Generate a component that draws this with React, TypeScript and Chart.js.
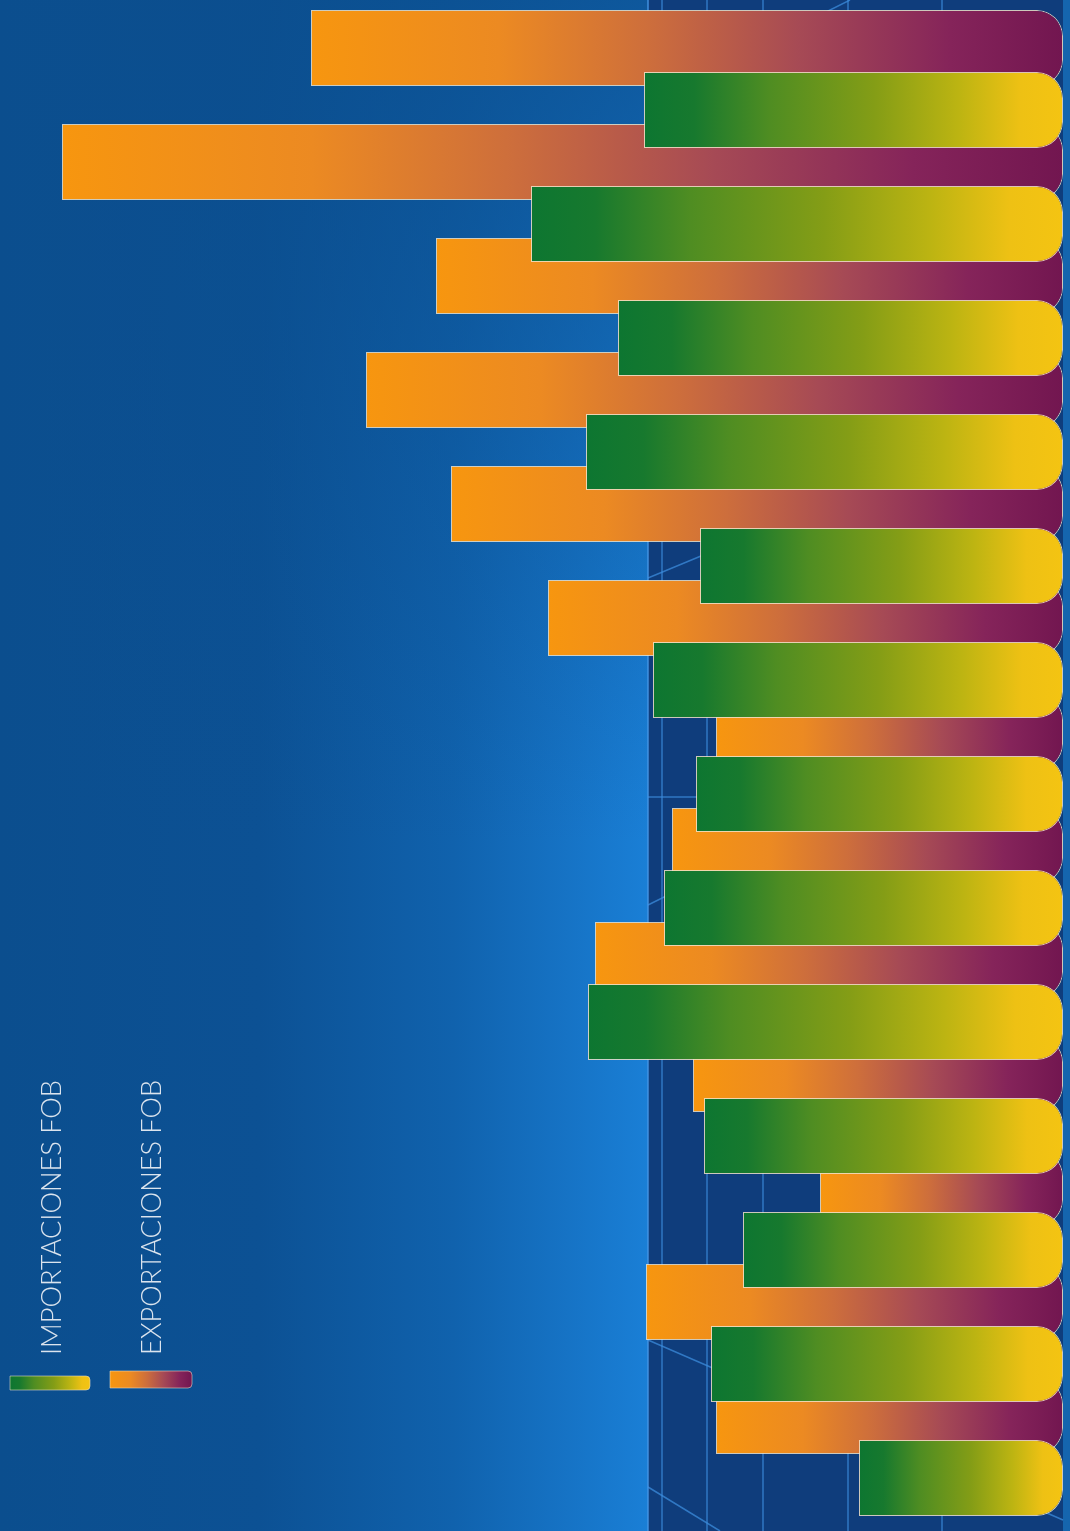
import React, { useEffect, useRef } from "react";
import { Chart, registerables } from "chart.js";

Chart.register(...registerables);

// ---- data (arbitrary units, 0 at the right-hand base) ----
const categories = ["1", "2", "3", "4", "5", "6", "7", "8", "9", "10", "11", "12", "13"];
const exportacionesFob = [752, 1001, 627, 697, 612, 515, 347, 391, 468, 370, 243, 417, 347];
const importacionesFob = [419, 532, 445, 477, 363, 410, 367, 399, 475, 359, 320, 352, 204];
const seriesLabels = ["EXPORTACIONES FOB", "IMPORTACIONES FOB"];
const axisMax = 1063;

// gradient stops (left end of a bar -> base on the right)
const exportStops: [number, string][] = [
  [0, "#f7960f"],
  [0.25, "#ec8a22"],
  [0.45, "#cd6e3c"],
  [0.65, "#a64a55"],
  [0.85, "#85245a"],
  [1, "#721650"],
];
const importStops: [number, string][] = [
  [0, "#0d7631"],
  [0.12, "#17792e"],
  [0.3, "#4f8d22"],
  [0.55, "#849d16"],
  [0.75, "#bcb412"],
  [0.9, "#eec114"],
  [1, "#f4c412"],
];

function makeGradient(stops: [number, string][], fallback: string) {
  return (c: any) => {
    const chart = c.chart;
    const xs = chart.scales && chart.scales.x;
    if (c.type !== "data" || !xs || !chart.chartArea) return fallback;
    const v = c.parsed && typeof c.parsed.x === "number" ? c.parsed.x : c.raw;
    const x0 = xs.getPixelForValue(v);
    const x1 = xs.getPixelForValue(0);
    if (!isFinite(x0) || !isFinite(x1) || x0 === x1) return fallback;
    const g = chart.ctx.createLinearGradient(x0, 0, x1, 0);
    stops.forEach(([o, col]) => g.addColorStop(o, col));
    return g;
  };
}

const backgroundPlugin = {
  id: "pageBackground",
  beforeDraw(chart: any) {
    const { ctx, width, height, chartArea } = chart;
    const split = 648;
    ctx.save();
    const h = ctx.createLinearGradient(0, 0, split, 0);
    h.addColorStop(0, "#0b4e8e");
    h.addColorStop(0.4, "#0c5194");
    h.addColorStop(0.7, "#1062ad");
    h.addColorStop(1, "#1a7fd6");
    ctx.fillStyle = h;
    ctx.fillRect(0, 0, split, height);
    const v = ctx.createLinearGradient(0, 0, 0, height);
    v.addColorStop(0, "rgba(11,78,142,0.8)");
    v.addColorStop(0.3, "rgba(11,78,142,0.35)");
    v.addColorStop(0.55, "rgba(11,78,142,0)");
    v.addColorStop(1, "rgba(11,78,142,0)");
    ctx.fillStyle = v;
    ctx.fillRect(0, 0, split, height);
    // right panel with perspective grid
    ctx.fillStyle = "#0f3d7c";
    ctx.fillRect(split, 0, width - split, height);
    const right = chartArea ? chartArea.right : width - 7;
    ctx.fillStyle = "#1565ae";
    ctx.fillRect(right, 0, width - right, height);
    ctx.strokeStyle = "rgba(60,140,220,0.75)";
    ctx.lineWidth = 1.5;
    [662, 707, 763, 848, 942].forEach((x) => {
      ctx.beginPath();
      ctx.moveTo(x, 0);
      ctx.lineTo(x, height);
      ctx.stroke();
    });
    const diag = [
      [648, 578, 860, 490],
      [648, 1340, 1063, 1520],
      [648, 1487, 720, 1531],
      [648, 905, 860, 800],
      [790, 30, 850, 0],
      [648, 797, 700, 797],
    ];
    diag.forEach(([a, b, c2, d]) => {
      ctx.beginPath();
      ctx.moveTo(a, b);
      ctx.lineTo(c2, d);
      ctx.stroke();
    });
    ctx.strokeStyle = "rgba(70,150,230,0.9)";
    ctx.beginPath();
    ctx.moveTo(split, 0);
    ctx.lineTo(split, height);
    ctx.stroke();
    ctx.restore();
  },
};

// exports first, imports laid over them (ribbon effect)
const drawOrderPlugin = {
  id: "ribbonOrder",
  beforeDatasetsDraw(chart: any) {
    [0, 1].forEach((i) => {
      const meta = chart.getDatasetMeta(i);
      if (meta && !meta.hidden) meta.controller.draw();
    });
    return false;
  },
};

const sideLegendPlugin = {
  id: "sideLegend",
  afterDraw(chart: any) {
    const ctx = chart.ctx;
    const items = [
      { ds: 1, cx: 51, sw: [10, 1376, 80, 14], stops: importStops },
      { ds: 0, cx: 151, sw: [110, 1371, 82, 17], stops: exportStops },
    ];
    ctx.save();
    items.forEach((it) => {
      const label = chart.data.datasets[it.ds].label as string;
      const [sx, sy, sw, sh] = it.sw;
      const g = ctx.createLinearGradient(sx, 0, sx + sw, 0);
      it.stops.forEach(([o, col]) => g.addColorStop(o, col));
      ctx.fillStyle = g;
      ctx.beginPath();
      const r = 4;
      ctx.moveTo(sx, sy);
      ctx.lineTo(sx + sw - r, sy);
      ctx.quadraticCurveTo(sx + sw, sy, sx + sw, sy + r);
      ctx.lineTo(sx + sw, sy + sh - r);
      ctx.quadraticCurveTo(sx + sw, sy + sh, sx + sw - r, sy + sh);
      ctx.lineTo(sx, sy + sh);
      ctx.closePath();
      ctx.fill();
      ctx.strokeStyle = "rgba(235,225,200,0.7)";
      ctx.lineWidth = 0.8;
      ctx.stroke();
      ctx.save();
      ctx.translate(it.cx, 1355);
      ctx.rotate(-Math.PI / 2);
      ctx.font = "300 27px Lato, 'Open Sans', sans-serif";
      ctx.fillStyle = "#dbe4ee";
      ctx.textAlign = "left";
      ctx.textBaseline = "middle";
      const w = ctx.measureText(label).width;
      const k = 275 / w;
      ctx.scale(k, 1);
      ctx.fillText(label, 0, 1);
      ctx.restore();
    });
    ctx.restore();
  },
};

export default function App() {
  const ref = useRef<HTMLCanvasElement | null>(null);

  useEffect(() => {
    document.body.style.margin = "0";
    document.body.style.background = "#0b4e8e";
    const canvas = ref.current;
    if (!canvas) return;
    const common = {
      borderColor: "rgba(238,226,200,0.85)",
      borderWidth: 1,
      borderSkipped: false as const,
      borderRadius: { topLeft: 0, bottomLeft: 0, topRight: 26, bottomRight: 26 },
      categoryPercentage: 124 / 114,
      barPercentage: 76 / 62,
      clip: false as const,
    };
    const chart = new Chart(canvas, {
      type: "bar",
      data: {
        labels: categories,
        datasets: [
          {
            label: seriesLabels[0],
            data: exportacionesFob,
            backgroundColor: makeGradient(exportStops, "#c0604a"),
            ...common,
          },
          {
            label: seriesLabels[1],
            data: importacionesFob,
            backgroundColor: makeGradient(importStops, "#8a9a20"),
            ...common,
          },
        ],
      },
      options: {
        indexAxis: "y",
        animation: false,
        responsive: false,
        maintainAspectRatio: false,
        layout: { padding: { left: 0, right: 7, top: 22, bottom: 27 } },
        scales: {
          x: { min: 0, max: axisMax, reverse: true, display: false },
          y: { type: "category", display: false, offset: true },
        },
        plugins: {
          legend: { display: false },
          tooltip: { enabled: false },
          title: { display: false },
        },
      },
      plugins: [backgroundPlugin, drawOrderPlugin, sideLegendPlugin],
    });
    return () => chart.destroy();
  }, []);

  return (
    <div style={{ width: 1070, height: 1531, overflow: "hidden" }}>
      <canvas ref={ref} width={1070} height={1531} style={{ display: "block" }} />
    </div>
  );
}
